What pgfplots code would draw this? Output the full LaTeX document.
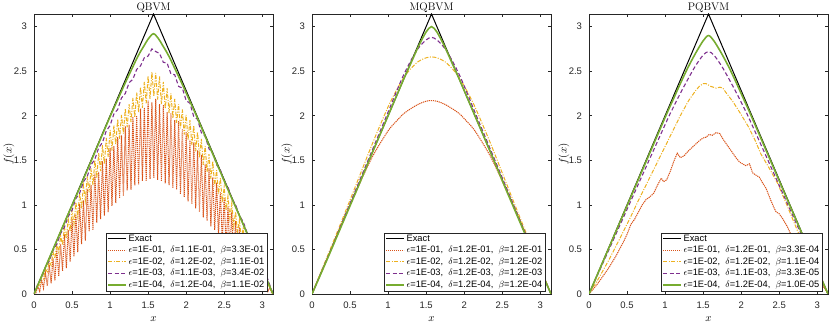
\documentclass[border=0pt]{standalone}
\usepackage{pgfplots}
\pgfplotsset{compat=1.18}
\usepackage{fontspec}
\newfontfamily\arial{Liberation Sans}
\definecolor{morange}{rgb}{0.85,0.325,0.098}
\definecolor{myellow}{rgb}{0.929,0.694,0.125}
\definecolor{mpurple}{rgb}{0.494,0.184,0.556}
\definecolor{mgreen}{rgb}{0.466,0.674,0.188}
\definecolor{maxis}{rgb}{0.15,0.15,0.15}

\pgfplotsset{
  panel/.style={
    scale only axis, width=239pt, height=280pt,
    xmin=0, xmax=3.1416, ymin=0, ymax=3.1416,
    xtick={0,0.5,...,3}, ytick={0,0.5,...,3},
    tick align=inside, major tick length=2.8pt,
    axis line style={maxis, line width=0.5pt},
    tick style={maxis, line width=0.5pt},
    ticklabel style={font=\arial\fontsize{9.5}{11}\selectfont, text=maxis},
    /pgf/number format/assume math mode=true,
    xticklabel style={yshift=-4pt},
    yticklabel style={xshift=-3.5pt},
    xlabel={$x$}, ylabel={$f(x)$},
    label style={font=\fontsize{11}{13}\selectfont},
    xlabel style={at={(axis description cs:0.5,-0.089)}, anchor=center},
    ylabel style={at={(axis description cs:-0.105,0.5)}, anchor=center},
    title style={at={(axis description cs:0.5,1)}, anchor=base, yshift=-2.5pt, font=\fontsize{11}{13}\selectfont},
    legend style={at={(0.978,0.011)}, anchor=south east, draw=maxis, fill=white,
      font=\arial\fontsize{9.3}{10}\selectfont, inner xsep=1.5pt, inner ysep=0.6pt,
      row sep=0.9pt, nodes={inner xsep=1.8pt, inner ysep=0.8pt, text height=7pt, text depth=2pt}},
    legend cell align=left,
    legend image code/.code={\draw[#1] (0pt,0pt) -- (18pt,0pt);},
  },
  exact/.style={black, line width=1pt},
  s1/.style={morange, line width=1pt, dash pattern=on 1.2pt off 0.8pt},
  s2/.style={myellow, line width=1pt, dash pattern=on 4pt off 1.5pt on 1pt off 1.5pt},
  s3/.style={mpurple, line width=1.1pt, dash pattern=on 4pt off 2.5pt},
  s4/.style={mgreen, line width=1.6pt},
}

\begin{document}
\begin{tikzpicture}
\path[use as bounding box] (0pt,-29pt) rectangle (830pt,294pt);

% ---------------- QBVM ----------------
\begin{axis}[panel, at={(34pt,0pt)}, anchor=south west, title={QBVM}]
\addplot[exact] coordinates {(0,0) (1.5708,3.1416) (3.1416,0)};
\addplot[s1] coordinates {
(0,0)(0.025,0.012)(0.05,0.084)(0.075,0.03)(0.1,0.16)(0.125,0.065)(0.15,0.24)(0.175,0.09)
(0.2,0.33)(0.225,0.12)(0.25,0.40)(0.275,0.15)(0.3,0.5)(0.325,0.2)(0.35,0.56)(0.375,0.26)
(0.4,0.67)(0.425,0.29)(0.45,0.72)(0.475,0.36)(0.5,0.84)(0.525,0.42)(0.55,0.9)(0.575,0.47)
(0.6,1.01)(0.625,0.56)(0.65,1.05)(0.675,0.6)(0.7,1.18)(0.725,0.7)(0.75,1.22)(0.775,0.72)
(0.8,1.35)(0.825,0.8)(0.85,1.37)(0.875,0.84)(0.9,1.49)(0.925,0.88)(0.95,1.52)(0.975,0.92)
(1.0,1.64)(1.025,0.99)(1.05,1.66)(1.075,1.02)(1.1,1.76)(1.125,1.08)(1.15,1.78)(1.175,1.1)
(1.2,1.88)(1.225,1.16)(1.25,1.9)(1.275,1.17)(1.3,1.99)(1.325,1.22)(1.35,2.0)(1.375,1.23)
(1.4,2.08)(1.425,1.27)(1.45,2.09)(1.475,1.27)(1.5,2.17)(1.525,1.29)(1.55,2.15)(1.575,1.3)
(1.6,2.19)(1.625,1.28)(1.65,2.13)(1.675,1.27)(1.7,2.12)(1.725,1.24)(1.75,2.04)(1.775,1.22)
(1.8,2.03)(1.825,1.19)(1.85,1.95)(1.875,1.17)(1.9,1.94)(1.925,1.12)(1.95,1.85)(1.975,1.09)
(2.0,1.82)(2.025,1.04)(2.05,1.73)(2.075,1.01)(2.1,1.70)(2.125,0.96)(2.15,1.61)(2.175,0.92)
(2.2,1.56)(2.225,0.86)(2.25,1.46)(2.275,0.82)(2.3,1.41)(2.325,0.76)(2.35,1.31)(2.375,0.72)
(2.4,1.25)(2.425,0.65)(2.45,1.14)(2.475,0.6)(2.5,1.08)(2.525,0.53)(2.55,0.98)(2.575,0.46)
(2.6,0.92)(2.625,0.4)(2.65,0.82)(2.675,0.34)(2.7,0.75)(2.725,0.29)(2.75,0.65)(2.775,0.24)
(2.8,0.58)(2.825,0.19)(2.85,0.48)(2.875,0.14)(2.9,0.4)(2.925,0.11)(2.95,0.31)(2.975,0.08)
(3.0,0.24)(3.025,0.06)(3.05,0.15)(3.075,0.03)(3.1,0.07)(3.125,0.01)(3.1416,0)};
\addplot[s2] coordinates {
(0,0)(0.025,0.036)(0.05,0.094)(0.075,0.1)(0.1,0.19)(0.125,0.17)(0.15,0.28)(0.175,0.25)
(0.2,0.37)(0.225,0.32)(0.25,0.47)(0.275,0.40)(0.3,0.56)(0.325,0.47)(0.35,0.65)(0.375,0.55)
(0.4,0.75)(0.425,0.62)(0.45,0.84)(0.475,0.70)(0.5,0.94)(0.525,0.78)(0.55,1.03)(0.575,0.87)
(0.6,1.13)(0.625,0.96)(0.65,1.22)(0.675,1.05)(0.7,1.32)(0.725,1.14)(0.75,1.41)(0.775,1.22)
(0.8,1.50)(0.825,1.30)(0.85,1.58)(0.875,1.38)(0.9,1.67)(0.925,1.46)(0.95,1.75)(0.975,1.54)
(1.0,1.84)(1.025,1.61)(1.05,1.89)(1.075,1.68)(1.1,1.96)(1.125,1.74)(1.15,2.01)(1.175,1.80)
(1.2,2.08)(1.225,1.87)(1.25,2.13)(1.275,1.93)(1.3,2.2)(1.325,1.98)(1.35,2.26)(1.375,2.04)
(1.4,2.32)(1.425,2.09)(1.45,2.38)(1.475,2.14)(1.5,2.45)(1.525,2.19)(1.55,2.49)(1.575,2.22)
(1.6,2.48)(1.625,2.18)(1.65,2.44)(1.675,2.13)(1.7,2.38)(1.725,2.08)(1.75,2.31)(1.775,2.03)
(1.8,2.25)(1.825,1.97)(1.85,2.19)(1.875,1.92)(1.9,2.13)(1.925,1.86)(1.95,2.07)(1.975,1.79)
(2.0,2.01)(2.025,1.73)(2.05,1.95)(2.075,1.67)(2.1,1.89)(2.125,1.6)(2.15,1.82)(2.175,1.53)
(2.2,1.74)(2.225,1.45)(2.25,1.66)(2.275,1.37)(2.3,1.57)(2.325,1.29)(2.35,1.49)(2.375,1.21)
(2.4,1.39)(2.425,1.12)(2.45,1.3)(2.475,1.03)(2.5,1.2)(2.525,0.94)(2.55,1.1)(2.575,0.85)
(2.6,1.02)(2.625,0.76)(2.65,0.92)(2.675,0.69)(2.7,0.83)(2.725,0.62)(2.75,0.74)(2.775,0.54)
(2.8,0.64)(2.825,0.47)(2.85,0.55)(2.875,0.4)(2.9,0.45)(2.925,0.32)(2.95,0.36)(2.975,0.25)
(3.0,0.27)(3.025,0.17)(3.05,0.17)(3.075,0.1)(3.1,0.08)(3.125,0.02)(3.1416,0)};
\addplot[s3] coordinates {
(0,0)(0.05,0.11)(0.1,0.18)(0.15,0.3)(0.2,0.37)(0.25,0.49)(0.3,0.56)(0.35,0.68)(0.4,0.75)
(0.45,0.87)(0.5,0.94)(0.55,1.07)(0.6,1.13)(0.65,1.26)(0.7,1.32)(0.75,1.45)(0.8,1.51)
(0.85,1.64)(0.9,1.7)(0.95,1.83)(1.0,1.89)(1.05,2.02)(1.1,2.07)(1.15,2.2)(1.2,2.25)
(1.25,2.37)(1.3,2.41)(1.35,2.52)(1.4,2.56)(1.45,2.65)(1.5,2.67)(1.55,2.75)(1.6,2.72)
(1.65,2.7)(1.7,2.6)(1.75,2.59)(1.8,2.47)(1.85,2.46)(1.9,2.33)(1.95,2.31)(2.0,2.17)
(2.05,2.14)(2.1,1.99)(2.15,1.96)(2.2,1.81)(2.25,1.77)(2.3,1.63)(2.35,1.58)(2.4,1.45)
(2.45,1.39)(2.5,1.26)(2.55,1.2)(2.6,1.07)(2.65,1.0)(2.7,0.88)(2.75,0.81)(2.8,0.69)
(2.85,0.62)(2.9,0.5)(2.95,0.42)(3.0,0.3)(3.05,0.22)(3.1,0.1)(3.1416,0)};
\addplot[s4, smooth] coordinates {
(0,0)(0.2,0.4)(0.4,0.8)(0.6,1.19)(0.8,1.59)(1.0,1.99)(1.1,2.18)(1.2,2.37)(1.3,2.55)
(1.35,2.64)(1.4,2.72)(1.45,2.79)(1.5,2.86)(1.5708,2.92)(1.64,2.86)(1.69,2.79)(1.74,2.72)
(1.79,2.64)(1.84,2.55)(1.94,2.37)(2.04,2.18)(2.14,1.99)(2.34,1.59)(2.54,1.19)(2.74,0.8)
(2.94,0.4)(3.1416,0)};
\legend{Exact,
{$\epsilon$=1E-01,\ \ $\delta$=1.1E-01,\ \ $\beta$=3.3E-01},
{$\epsilon$=1E-02,\ \ $\delta$=1.2E-02,\ \ $\beta$=1.1E-01},
{$\epsilon$=1E-03,\ \ $\delta$=1.1E-03,\ \ $\beta$=3.4E-02},
{$\epsilon$=1E-04,\ \ $\delta$=1.2E-04,\ \ $\beta$=1.1E-02}}
\end{axis}

% ---------------- MQBVM ----------------
\begin{axis}[panel, at={(312pt,0pt)}, anchor=south west, title={MQBVM}]
\addplot[exact] coordinates {(0,0) (1.5708,3.1416) (3.1416,0)};
\addplot[s1, smooth] coordinates {
(0,0)(0.2,0.4)(0.4,0.8)(0.6,1.19)(0.8,1.55)(1.0,1.83)(1.1,1.93)(1.2,2.02)(1.3,2.08)
(1.4,2.13)(1.5,2.163)(1.5708,2.17)(1.6416,2.163)(1.7416,2.13)(1.8416,2.08)(1.9416,2.02)
(2.0416,1.93)(2.1416,1.83)(2.3416,1.55)(2.5416,1.19)(2.7416,0.8)(2.9416,0.4)(3.1416,0)};
\addplot[s2, smooth] coordinates {
(0,0)(0.2,0.42)(0.4,0.84)(0.6,1.27)(0.8,1.7)(1.0,2.1)(1.1,2.27)(1.2,2.42)(1.3,2.53)
(1.4,2.61)(1.5,2.65)(1.5708,2.66)(1.6416,2.65)(1.7416,2.61)(1.8416,2.53)(1.9416,2.42)
(2.0416,2.27)(2.1416,2.1)(2.3416,1.7)(2.5416,1.27)(2.7416,0.84)(2.9416,0.42)(3.1416,0)};
\addplot[s3, smooth] coordinates {
(0,0)(0.2,0.4)(0.4,0.81)(0.6,1.22)(0.8,1.63)(1.0,2.04)(1.1,2.25)(1.2,2.45)(1.3,2.62)
(1.4,2.76)(1.5,2.85)(1.5708,2.88)(1.6416,2.85)(1.7416,2.76)(1.8416,2.62)(1.9416,2.45)
(2.0416,2.25)(2.1416,2.04)(2.3416,1.63)(2.5416,1.22)(2.7416,0.81)(2.9416,0.4)(3.1416,0)};
\addplot[s4, smooth] coordinates {
(0,0)(0.2,0.39)(0.4,0.79)(0.6,1.19)(0.8,1.6)(1.0,2.0)(1.1,2.2)(1.2,2.4)(1.3,2.59)
(1.4,2.78)(1.5,2.94)(1.5708,3.0)(1.6416,2.94)(1.7416,2.78)(1.8416,2.59)(1.9416,2.4)
(2.0416,2.2)(2.1416,2.0)(2.3416,1.6)(2.5416,1.19)(2.7416,0.79)(2.9416,0.39)(3.1416,0)};
\legend{Exact,
{$\epsilon$=1E-01,\ \ $\delta$=1.2E-01,\ \ $\beta$=1.2E-01},
{$\epsilon$=1E-02,\ \ $\delta$=1.2E-02,\ \ $\beta$=1.2E-02},
{$\epsilon$=1E-03,\ \ $\delta$=1.2E-03,\ \ $\beta$=1.2E-03},
{$\epsilon$=1E-04,\ \ $\delta$=1.2E-04,\ \ $\beta$=1.2E-04}}
\end{axis}

% ---------------- PQBVM ----------------
\begin{axis}[panel, at={(589pt,0pt)}, anchor=south west, title={PQBVM}]
\addplot[exact] coordinates {(0,0) (1.5708,3.1416) (3.1416,0)};
\addplot[s1] coordinates {
(0,0)(0.05,0.05)(0.1,0.1)(0.15,0.16)(0.2,0.22)(0.25,0.28)(0.3,0.35)(0.35,0.42)(0.4,0.5)
(0.45,0.58)(0.5,0.67)(0.55,0.78)(0.6,0.84)(0.65,0.92)(0.7,1.0)(0.75,1.06)(0.8,1.09)
(0.85,1.13)(0.9,1.22)(0.95,1.3)(0.98,1.26)(1.02,1.28)(1.07,1.38)(1.12,1.5)(1.16,1.58)
(1.2,1.53)(1.25,1.55)(1.3,1.6)(1.35,1.64)(1.4,1.68)(1.45,1.72)(1.5,1.75)(1.54,1.76)
(1.58,1.79)(1.62,1.78)(1.67,1.81)(1.72,1.8)(1.76,1.74)(1.8,1.69)(1.85,1.63)(1.89,1.58)
(1.94,1.52)(1.98,1.48)(2.02,1.46)(2.06,1.44)(2.11,1.46)(2.15,1.36)(2.2,1.33)(2.24,1.31)
(2.28,1.25)(2.33,1.18)(2.39,1.05)(2.43,0.97)(2.46,0.92)(2.5,0.9)(2.55,0.84)(2.61,0.75)
(2.7,0.58)(2.8,0.42)(2.9,0.28)(3.0,0.16)(3.1,0.06)(3.1416,0)};
\addplot[s2] coordinates {
(0,0)(0.13,0.18)(0.26,0.38)(0.35,0.53)(0.44,0.68)(0.55,0.87)(0.655,1.06)(0.76,1.24)
(0.87,1.43)(0.98,1.62)(1.09,1.81)(1.2,2.0)(1.31,2.17)(1.4,2.28)(1.45,2.33)(1.5,2.36)
(1.54,2.36)(1.6,2.33)(1.67,2.31)(1.72,2.32)(1.76,2.31)(1.8,2.26)(1.89,2.16)(1.98,2.04)
(2.1,1.87)(2.18,1.73)(2.26,1.57)(2.37,1.41)(2.48,1.24)(2.6,1.0)(2.74,0.71)(2.85,0.5)
(2.95,0.32)(3.05,0.15)(3.1416,0)};
\addplot[s3, smooth] coordinates {
(0,0)(0.5,0.95)(1.0,1.9)(1.1,2.08)(1.2,2.25)(1.3,2.41)(1.4,2.56)(1.5,2.68)(1.5708,2.72)
(1.6416,2.68)(1.7416,2.56)(1.8416,2.41)(1.9416,2.25)(2.0416,2.08)(2.1416,1.9)(2.6416,0.95)(3.1416,0)};
\addplot[s4, smooth] coordinates {
(0,0)(0.5,0.99)(1.0,1.98)(1.1,2.17)(1.2,2.36)(1.3,2.54)(1.4,2.7)(1.5,2.84)(1.5708,2.9)
(1.6416,2.84)(1.7416,2.7)(1.8416,2.54)(1.9416,2.36)(2.0416,2.17)(2.1416,1.98)(2.6416,0.99)(3.1416,0)};
\legend{Exact,
{$\epsilon$=1E-01,\ \ $\delta$=1.2E-01,\ \ $\beta$=3.3E-04},
{$\epsilon$=1E-02,\ \ $\delta$=1.2E-02,\ \ $\beta$=1.1E-04},
{$\epsilon$=1E-03,\ \ $\delta$=1.1E-03,\ \ $\beta$=3.3E-05},
{$\epsilon$=1E-04,\ \ $\delta$=1.2E-04,\ \ $\beta$=1.0E-05}}
\end{axis}
\end{tikzpicture}
\end{document}
